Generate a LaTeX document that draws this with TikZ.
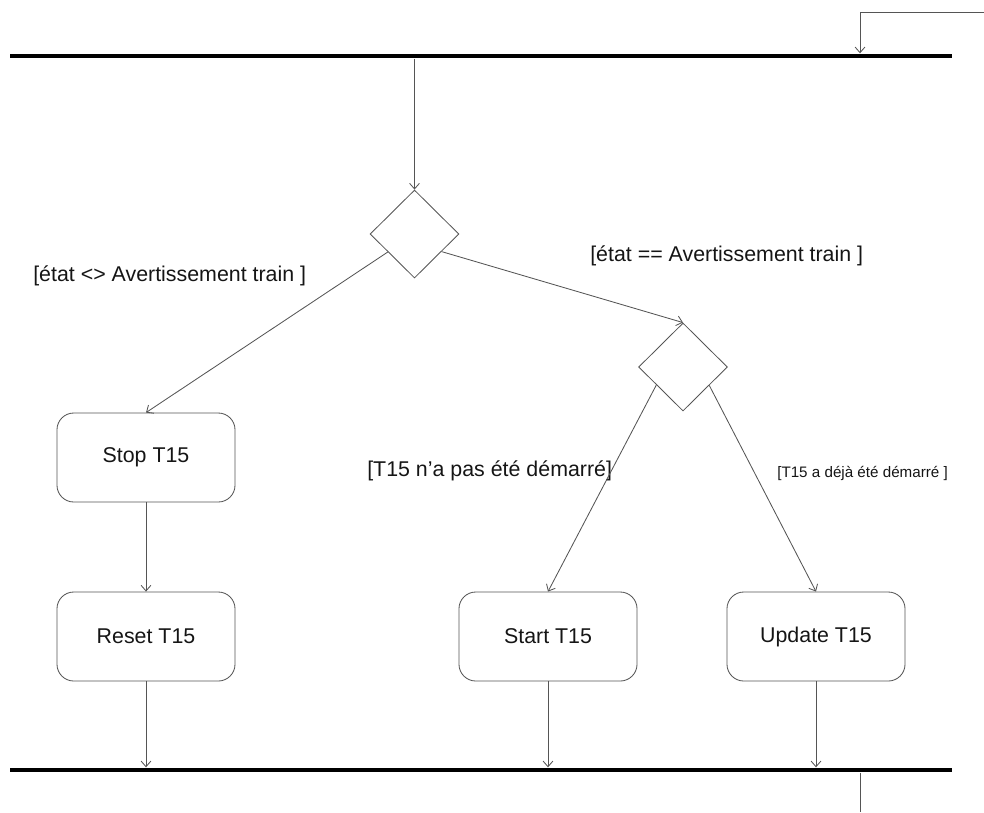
\documentclass[tikz,border=0pt]{standalone}
\usepackage{fontspec}
\setmainfont{Liberation Sans}
\usetikzlibrary{arrows.meta,shapes.geometric,positioning}
\definecolor{lineGray}{HTML}{555555}
\definecolor{txtDark}{HTML}{151515}

\begin{document}
\begin{tikzpicture}[
  x=0.025cm, y=-0.025cm,
  every node/.style={font=\fontsize{15.2}{18}\selectfont, text=txtDark},
  action/.style={
    draw=lineGray, line width=0.6pt, rounded corners=0.42cm,
    minimum width=4.45cm, minimum height=2.225cm, inner sep=2pt,
  },
  decision/.style={
    diamond, draw=lineGray, line width=0.6pt, aspect=1,
    minimum width=2.22cm, minimum height=2.2cm, inner sep=0pt,
  },
  bar/.style={fill=black, inner sep=0pt, minimum width=23.55cm, minimum height=0.12cm},
  guard/.style={anchor=west, inner sep=0pt},
  smallguard/.style={guard, font=\fontsize{10.8}{13}\selectfont},
  flow/.style={draw=lineGray, line width=0.6pt, -{Straight Barb[length=4pt,width=7pt]}},
]
\useasboundingbox (0,0) rectangle (984,812);

% Synchronisation bars
\node[bar] (topbar) at (481,56) {};
\node[bar] (botbar) at (481,770) {};

% Decisions
\node[decision] (d1) at (414.5,234) {};
\node[decision] (d2) at (683,367) {};

% Actions
\node[action] (stop) at (146,457.5) {Stop T15};
\node[action] (reset) at (146,636.5) {Reset T15};
\node[action] (start) at (548,636.5) {Start T15};
\node[action] (update) at (816,636.5) {Update T15};

% Guards
\node[guard] (gneq) at (33,276) {[état <> Avertissement train ]};
\node[guard] (geq) at (590,256) {[état == Avertissement train ]};
\node[guard] (gnot) at (367,471) {[T15 n’a pas été démarré]};
\node[smallguard] (gdone) at (777,473) {[T15 a déjà été démarré ]};

% Incoming and outgoing flows
\coordinate (entry) at (984,12);
\coordinate (entrybend) at (860,12);
\coordinate (exit) at (860,812);
\draw[flow] (entry) -- (entrybend) -- (entrybend |- topbar.north);
\draw[draw=lineGray, line width=0.6pt] (botbar.south -| exit) -- (exit);

% Flows
\draw[flow] (topbar.south -| d1.north) -- (d1.north);
\draw[flow] (d1.-146) -- (stop.north);
\draw[flow] (d1.-33) -- (d2.north);
\draw[flow] (d2.-146) -- (start.north);
\draw[flow] (d2.-35) -- (update.north);
\draw[flow] (stop) -- (reset);
\draw[flow] (reset.south) -- (reset.south |- botbar.north);
\draw[flow] (start.south) -- (start.south |- botbar.north);
\draw[flow] (update.south) -- (update.south |- botbar.north);

\end{tikzpicture}
\end{document}
